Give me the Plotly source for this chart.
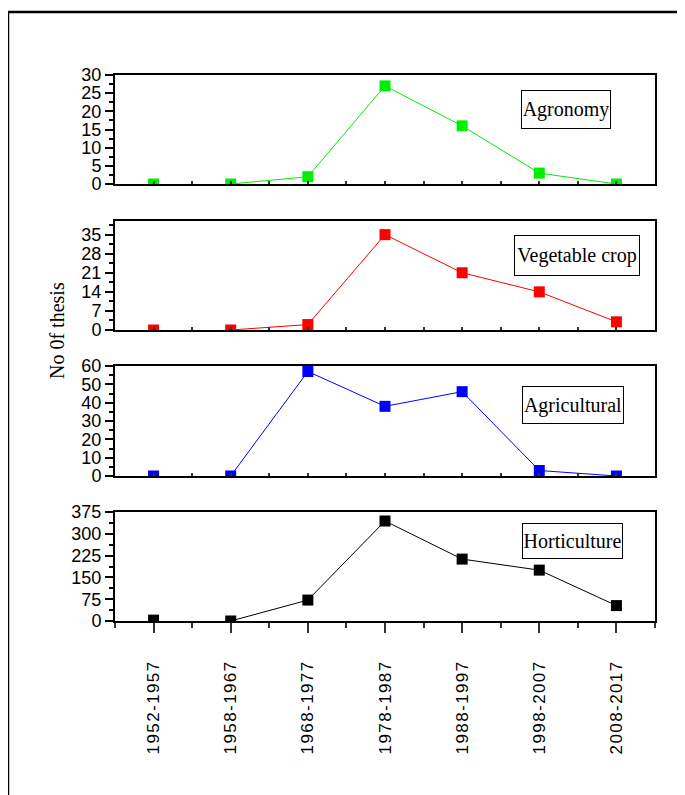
import plotly.graph_objects as go
from plotly.subplots import make_subplots

periods = ["1952-1957", "1958-1967", "1968-1977", "1978-1987", "1988-1997", "1998-2007", "2008-2017"]
agronomy = [0, 0, 2, 27, 16, 3, 0]
vegetable_crop = [0, 0, 2, 35, 21, 14, 3]
agricultural = [0, 0, 57, 38, 46, 3, 0]
horticulture = [3, 0, 72, 344, 213, 175, 53]

series_names = ["Agronomy", "Vegetable crop", "Agricultural", "Horticulture"]
series_values = [agronomy, vegetable_crop, agricultural, horticulture]
series_colors = ["#00ee00", "#ff0000", "#0000ff", "#000000"]
y_ranges = [[0, 30], [0, 40], [0, 60], [0, 375]]
y_dticks = [5, 7, 10, 75]

# page body margin offsets the figure by 8px
OFF = 8
W, H = 685, 795
PL, PR, PT, PB = 115, 655, 75, 621  # plot area in screen pixels
ML, MT = PL - OFF, PT - OFF
MR = W - (PR - OFF)
MB = H - (PB - OFF)
PW, PH = PR - PL, PB - PT

def px_x(x):
    return (x - PL) / PW

def px_y(y):
    return (PB - y) / PH

panel_px = [(75, 184), (221, 330), (366, 476), (512, 621)]
box_px = [(521, 611, 90, 129), (514, 640, 235, 276), (522, 624, 386, 424), (522, 623, 523, 559)]

xs = list(range(len(periods)))
spaced = ["\u200a".join(list(p)) for p in periods]

fig = make_subplots(rows=4, cols=1, shared_xaxes=True)

tick_font = dict(family="Liberation Sans Narrow, Arial Narrow, Liberation Sans, Arial", size=18, color="black")
xtick_font = dict(family="Liberation Sans Narrow, Arial Narrow, Liberation Sans, Arial", size=17, color="black")

for i, (name, vals, col) in enumerate(zip(series_names, series_values, series_colors)):
    r = i + 1
    fig.add_trace(go.Scatter(x=xs[1:], y=vals[1:], mode="lines", line=dict(color=col, width=1),
                             showlegend=False, hoverinfo="skip"), row=r, col=1)
    fig.add_trace(go.Scatter(x=xs, y=vals, mode="markers", marker=dict(symbol="square", size=11, color=col),
                             showlegend=False, name=name), row=r, col=1)
    top, bot = panel_px[i]
    fig.update_yaxes(domain=[px_y(bot), px_y(top)], range=y_ranges[i], dtick=y_dticks[i], tick0=0,
                     showline=True, linecolor="black", linewidth=2, mirror=True,
                     ticks="outside", ticklen=8, tickwidth=1.5, tickcolor="black",
                     minor=dict(ticks="outside", ticklen=4, tickwidth=1.5, tickcolor="black",
                                dtick=y_dticks[i] / 2, tick0=0),
                     showgrid=False, zeroline=False, tickfont=tick_font, row=r, col=1)
    is_bottom = (r == 4)
    fig.update_xaxes(range=[-0.5, len(periods) - 0.5], tickmode="array", tickvals=xs, ticktext=spaced,
                     showline=True, linecolor="black", linewidth=2, mirror=True,
                     ticks="outside" if is_bottom else "inside",
                     ticklen=10 if is_bottom else 3, tickwidth=1.5, tickcolor="#333333",
                     minor=dict(ticks="outside" if is_bottom else "inside", ticklen=5 if is_bottom else 3,
                                tickwidth=1.5, tickcolor="#333333", tick0=-0.5, dtick=1),
                     showticklabels=is_bottom, tickangle=-90, ticklabelstandoff=22,
                     showgrid=False, zeroline=False, tickfont=xtick_font, row=r, col=1)
    x0, x1, y0, y1 = box_px[i]
    fig.add_annotation(xref="paper", yref="paper", x=px_x((x0 + x1) / 2), y=px_y((y0 + y1) / 2),
                       text=name, showarrow=False, xanchor="center", yanchor="middle",
                       width=x1 - x0 - 4, height=y1 - y0 - 4, borderpad=1,
                       bordercolor="black", borderwidth=1, bgcolor="white",
                       font=dict(family="Liberation Serif, Times New Roman, serif", size=20, color="black"))

fig.add_annotation(xref="paper", yref="paper", x=px_x(57), y=px_y(331), text="No 0f thesis",
                   textangle=-90, showarrow=False, xanchor="center", yanchor="middle",
                   font=dict(family="Liberation Serif, Times New Roman, serif", size=20, color="black"))

fig.add_shape(type="rect", xref="paper", yref="paper", x0=px_x(8), x1=px_x(720), y0=px_y(830), y1=px_y(12),
              line=dict(color="black", width=2.5), fillcolor="rgba(0,0,0,0)", layer="above")

fig.update_layout(width=W, height=H, margin=dict(l=ML, r=MR, t=MT, b=MB),
                  paper_bgcolor="white", plot_bgcolor="white", showlegend=False)

fig.write_html("out.html")
